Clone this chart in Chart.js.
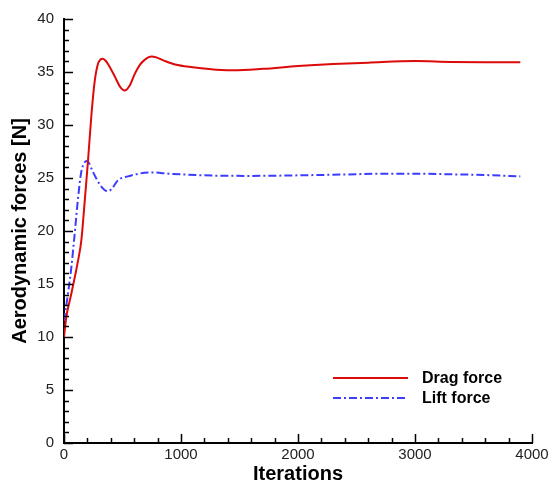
<!DOCTYPE html>
<html>
<head>
<meta charset="utf-8">
<script src="https://cdn.jsdelivr.net/npm/chart.js@4.4.1/dist/chart.umd.min.js"></script>
<style>
  body { margin: 0; background: #fff; }
  #wrap { width: 552px; height: 484px; }
</style>
</head>
<body>
<div id="wrap"><canvas id="chart" width="552" height="484"></canvas></div>
<script>
// Drag force history
const dragIter = [0, 20, 63, 120, 148, 177, 205, 234, 262, 291, 310, 330, 352, 376, 433, 480, 519, 560, 604, 650, 690, 720, 750, 790, 850, 950, 1100, 1350, 1450, 1700, 2000, 2300, 2600, 3000, 3300, 3600, 3900];
const dragForce = [10, 11.9, 14.1, 17.2, 19.1, 22.8, 26.6, 30.9, 34.1, 35.8, 36.15, 36.25, 36.1, 35.75, 34.6, 33.6, 33.25, 33.7, 34.8, 35.7, 36.15, 36.38, 36.47, 36.38, 36.1, 35.7, 35.45, 35.18, 35.16, 35.3, 35.56, 35.75, 35.88, 36.03, 35.95, 35.93, 35.93];

// Lift force history
const liftIter = [0, 34, 63, 91, 120, 148, 175, 195, 215, 234, 305, 350, 376, 410, 462, 547, 690, 750, 900, 1062, 1300, 1600, 2000, 2400, 2729, 3000, 3300, 3600, 3900];
const liftForce = [11.5, 14.1, 16.6, 19.7, 23.1, 25.6, 26.45, 26.6, 26.4, 25.9, 24.4, 23.85, 23.75, 24.0, 24.8, 25.15, 25.5, 25.53, 25.4, 25.31, 25.22, 25.2, 25.25, 25.33, 25.4, 25.4, 25.35, 25.28, 25.15];

const xTicks = [0, 1000, 2000, 3000, 4000];
const yTicks = [0, 5, 10, 15, 20, 25, 30, 35, 40];
const seriesNames = ['Drag force', 'Lift force'];

const toPoints = (xs, ys) => xs.map((x, i) => ({ x: x, y: ys[i] }));

// Inward tick marks (major + minor) drawn from the scales
const inwardTicks = {
    id: 'inwardTicks',
    afterDraw(chart) {
        const ctx = chart.ctx;
        const area = chart.chartArea;
        const xs = chart.scales.x;
        const ys = chart.scales.y;
        ctx.save();
        ctx.strokeStyle = '#000';
        ctx.lineWidth = 1.5;
        ctx.beginPath();
        for (let v = 0; v <= 4000; v += 200) {
            const px = Math.round(xs.getPixelForValue(v)) + 0.5;
            const len = v % 1000 === 0 ? 9 : 5;
            ctx.moveTo(px, area.bottom);
            ctx.lineTo(px, area.bottom - len);
        }
        for (let v = 0; v <= 40; v += 1) {
            const py = Math.round(ys.getPixelForValue(v)) + 0.5;
            const len = v % 5 === 0 ? 9 : 5;
            ctx.moveTo(area.left, py);
            ctx.lineTo(area.left + len, py);
        }
        ctx.stroke();
        ctx.restore();
    }
};

// Legend inside the plot, lower right
const insideLegend = {
    id: 'insideLegend',
    afterDraw(chart) {
        const ctx = chart.ctx;
        const rows = [378, 398];
        ctx.save();
        chart.data.datasets.forEach((ds, i) => {
            const y = rows[i];
            ctx.strokeStyle = ds.borderColor;
            ctx.lineWidth = ds.borderWidth;
            ctx.setLineDash(ds.borderDash || []);
            ctx.beginPath();
            ctx.moveTo(333, y);
            ctx.lineTo(408, y);
            ctx.stroke();
            ctx.setLineDash([]);
            ctx.fillStyle = '#000';
            ctx.font = 'bold 16px Arial, "Liberation Sans", sans-serif';
            ctx.textBaseline = 'middle';
            ctx.textAlign = 'left';
            ctx.fillText(ds.label, 422, y + 1);
        });
        ctx.restore();
    }
};

new Chart(document.getElementById('chart'), {
    type: 'line',
    data: {
        datasets: [{
            label: seriesNames[0],
            data: toPoints(dragIter, dragForce),
            borderColor: '#dd0a0a',
            borderWidth: 2,
            pointRadius: 0,
            cubicInterpolationMode: 'monotone',
            fill: false
        }, {
            label: seriesNames[1],
            data: toPoints(liftIter, liftForce),
            borderColor: '#3c3cff',
            borderWidth: 2,
            borderDash: [8, 3, 2, 3],
            pointRadius: 0,
            cubicInterpolationMode: 'monotone',
            fill: false
        }]
    },
    options: {
        responsive: false,
        animation: false,
        devicePixelRatio: 1,
        layout: { padding: { top: 17, right: 20, left: 0, bottom: 0 } },
        plugins: {
            legend: { display: false },
            tooltip: { enabled: false }
        },
        scales: {
            x: {
                type: 'linear',
                min: 0,
                max: 4000,
                afterBuildTicks: (scale) => { scale.ticks = xTicks.map(v => ({ value: v })); },
                afterFit: (scale) => { scale.height = 41; },
                grid: { display: false, drawTicks: false },
                border: { display: true, color: '#000', width: 2 },
                ticks: {
                    padding: 3,
                    color: '#222',
                    maxRotation: 0,
                    callback: (v) => String(v),
                    font: { family: 'Arial, "Liberation Sans", sans-serif', size: 15 }
                },
                title: {
                    display: true,
                    text: 'Iterations',
                    color: '#000',
                    padding: { top: 0, bottom: -2 },
                    font: { family: 'Arial, "Liberation Sans", sans-serif', size: 20, weight: 'bold' }
                }
            },
            y: {
                min: 0,
                max: 40,
                afterBuildTicks: (scale) => { scale.ticks = yTicks.map(v => ({ value: v })); },
                afterFit: (scale) => { scale.width = 64; },
                grid: { display: false, drawTicks: false },
                border: { display: true, color: '#000', width: 2 },
                ticks: {
                    padding: 10,
                    color: '#222',
                    callback: (v) => String(v),
                    font: { family: 'Arial, "Liberation Sans", sans-serif', size: 15 }
                },
                title: {
                    display: true,
                    text: 'Aerodynamic forces [N]',
                    color: '#000',
                    padding: { top: 8, bottom: 0 },
                    font: { family: 'Arial, "Liberation Sans", sans-serif', size: 20, weight: 'bold' }
                }
            }
        }
    },
    plugins: [inwardTicks, insideLegend]
});
</script>
</body>
</html>
